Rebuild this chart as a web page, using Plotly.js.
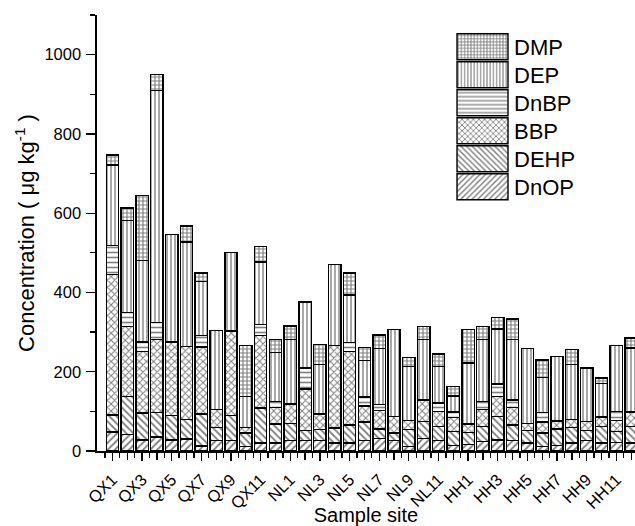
<!DOCTYPE html>
<html>
<head>
<meta charset="utf-8">
<script src="https://cdn.plot.ly/plotly-3.0.1.min.js"></script>
<style>html,body{margin:0;padding:0;background:#fff;overflow:hidden}</style>
</head>
<body>
<div id="chart" style="width:635px;height:526px"></div>
<script>
const sites = ["QX1","QX2","QX3","QX4","QX5","QX6","QX7","QX8","QX9","QX10","QX11","QX12",
  "NL1","NL2","NL3","NL4","NL5","NL6","NL7","NL8","NL9","NL10","NL11","NL12",
  "HH1","HH2","HH3","HH4","HH5","HH6","HH7","HH8","HH9","HH10","HH11","HH12"];

const DnOP = [47.5,41,28,35,28,30,13,26,26.5,11,20,20, 26.6,26,26,20,20,26.6,30.8,26.6,11,30.8,26.6,14, 17,24,28,25.8,20,11,14,20,26,20,21.5,20];
const DEHP = [43.5,96.6,67.5,62,61,49,80,34,62.5,34,88,48, 42.1,25,29,37.7,46,46.4,25.2,18.4,42.5,43.8,35.4,35, 30,38,59,40.2,31,34,42,39,25,42,27.5,42];
const BBP  = [355,176.4,155.5,185,186,185,169,44,214,15,183.5,42, 50.3,105,38,208.8,185,41,46,42,23.5,54.4,38,36, 21,42,50.6,44,19,28,20,20,23.5,23.5,28,36];
const DnBP = [72,35.6,24,42,0,0,29.5,0,0,0,27,15, 0,53,0,0,23,22,14.7,0,0,0,21,13, 0,21,31.4,19,0,24,0,0,0,0,23,0];
const DEP  = [204,232.4,205,585,271,263,136.5,200,198,77.6,158.5,124, 163,167,124.5,203.5,120,91.6,141.3,219,136,152,92,41, 154,157,138.6,152,188,89,162.6,140,134.5,85.5,166,162];
const DMP  = [25,31,164,41,0,41,21,0,0,128.4,39,32, 33,0,50.5,0,55,33.4,35,0,23,33,32,24, 84,32.5,29.4,52,0,44,0,36.5,0,13,0,25];

const seriesNames = ["DnOP","DEHP","BBP","DnBP","DEP","DMP"];
const seriesData = [DnOP, DEHP, BBP, DnBP, DEP, DMP];
const shapes = ["/", "\\", "x", "-", "|", "+"];
const sizes = [5, 5, 5, 5, 4, 4];
const solid = [0.36, 0.36, 0.38, 0.32, 0.34, 0.5];

const xIdx = sites.map((s, i) => i);
const evenIdx = xIdx.filter(i => i % 2 === 0);
const oddIdx = xIdx.filter(i => i % 2 === 1);

const traces = seriesNames.map((name, k) => ({
  type: 'bar',
  name: name,
  x: xIdx,
  y: seriesData[k],
  width: 0.83,
  marker: {
    color: '#ffffff',
    line: {color: '#000000', width: 1.4},
    pattern: {shape: shapes[k], fgcolor: '#000000', bgcolor: '#ffffff', size: sizes[k], solidity: solid[k], fillmode: 'overlay'}
  },
  hoverinfo: 'skip'
}));

const xr = [-1.04, 35.26];

const layout = {
  width: 635, height: 526,
  margin: {l: 97, r: 0, t: 15, b: 75},
  paper_bgcolor: '#ffffff', plot_bgcolor: '#ffffff',
  barmode: 'stack',
  bargap: 0,
  showlegend: true,
  font: {family: 'Liberation Sans, Arial, sans-serif', color: '#000', size: 16},
  legend: {
    x: 0.645, xanchor: 'left', y: 0.975, yanchor: 'top',
    traceorder: 'reversed',
    font: {size: 22, color: '#000'},
    bgcolor: 'rgba(0,0,0,0)', borderwidth: 0,
    itemwidth: 60, tracegroupgap: 0
  },
  xaxis: {
    type: 'linear',
    range: xr,
    tickmode: 'array',
    tickvals: evenIdx,
    ticktext: evenIdx.map(i => sites[i]),
    tickangle: -45,
    ticklabelstandoff: 3,
    ticks: 'outside', ticklen: 8, tickwidth: 1.3, tickcolor: '#000',
    minor: {ticks: 'outside', ticklen: 5, tickwidth: 1.3, tickcolor: '#000', tickmode: 'linear', tick0: -0.5, dtick: 1, showgrid: false},
    showline: true, linecolor: '#000', linewidth: 1.6,
    showgrid: false, zeroline: false,
    tickfont: {size: 16.5},
    title: {text: 'Sample site', font: {size: 20}, standoff: 0},
    automargin: false
  },
  xaxis2: {
    type: 'linear', overlaying: 'x', side: 'bottom', anchor: 'y',
    range: xr,
    tickmode: 'array', tickvals: oddIdx,
    showticklabels: false,
    ticks: 'outside', ticklen: 8, tickwidth: 1.3, tickcolor: '#000',
    showline: false, showgrid: false, zeroline: false
  },
  yaxis: {
    range: [0, 1100],
    tickmode: 'linear', tick0: 0, dtick: 200,
    ticks: 'outside', ticklen: 9, tickwidth: 1.3, tickcolor: '#000',
    ticklabelstandoff: 2,
    minor: {ticks: 'outside', ticklen: 5, tickwidth: 1.3, tickcolor: '#000', dtick: 100, showgrid: false},
    showline: true, linecolor: '#000', linewidth: 1.6,
    showgrid: false, zeroline: false,
    tickfont: {size: 16.5},
    title: {text: 'Concentration ( μg kg<sup>-1</sup> )', font: {size: 22}, standoff: 3},
    automargin: false
  }
};

// invisible helper trace so that xaxis2 is drawn (ticks only)
traces.push({type: 'scatter', x: [], y: [], xaxis: 'x2', yaxis: 'y', showlegend: false, hoverinfo: 'skip'});

Plotly.newPlot('chart', traces, layout, {staticPlot: true, displayModeBar: false}).then(gd => {
  gd.querySelectorAll('.legend .traces .legendpoints path').forEach(p => {
    p.setAttribute('d', 'M29,13H-22V-13H29Z');
  });
  const items = Array.from(gd.querySelectorAll('.legend .traces'));
  const getXY = el => {
    const m = /translate\(\s*([-\d.]+)[ ,]+([-\d.]+)\s*\)/.exec(el.getAttribute('transform') || '');
    return m ? [parseFloat(m[1]), parseFloat(m[2])] : [0, 0];
  };
  const order = items.map(el => ({el, xy: getXY(el)})).sort((a, b) => a.xy[1] - b.xy[1]);
  if (order.length) {
    const x0 = order[0].xy[0], y0 = order[0].xy[1];
    order.forEach((o, i) => o.el.setAttribute('transform', 'translate(' + x0 + ',' + (y0 + i * 28) + ')'));
  }
});
</script>
</body>
</html>
